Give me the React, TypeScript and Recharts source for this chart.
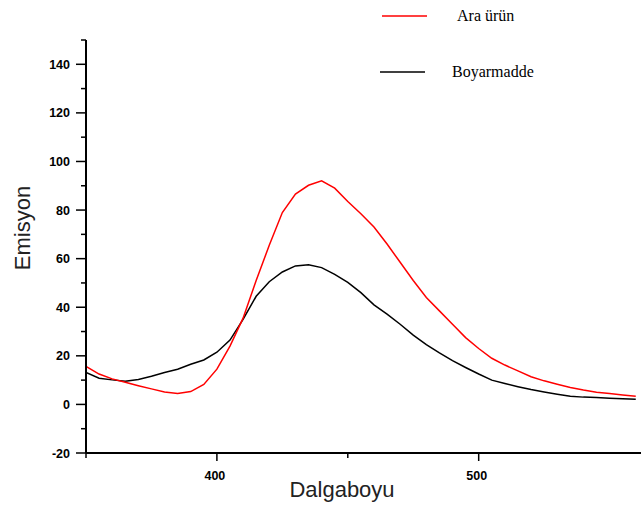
import { LineChart, Line, XAxis, YAxis } from "recharts";

// wavelength (nm)
const wavelengths = [
  350, 355, 360, 365, 370, 375, 380, 385, 390, 395, 400, 405, 410, 415, 420,
  425, 430, 435, 440, 445, 450, 455, 460, 465, 470, 475, 480, 485, 490, 495,
  500, 505, 510, 515, 520, 525, 530, 535, 540, 545, 550, 555, 560,
];

// Ara ürün (red)
const araUrun = [
  15.7, 12.5, 10.5, 9.1, 7.7, 6.4, 5.1, 4.5, 5.3, 8.2, 14.5, 24, 35.5, 51, 65.5,
  79, 86.6, 90.2, 92, 89, 83.5, 78.5, 73, 66, 58.5, 51, 44, 38.5, 33, 27.5,
  23, 19, 16.2, 13.8, 11.4, 9.7, 8.3, 7, 5.9, 5, 4.5, 3.9, 3.4,
];

// Boyarmadde (black)
const boyarmadde = [
  13.2, 10.8, 10.1, 9.5, 10.3, 11.6, 13.1, 14.5, 16.5, 18.3, 21.5, 26.5, 35, 44.5, 50.5,
  54.5, 57, 57.5, 56.3, 53.5, 50.2, 46, 41, 37.2, 33, 28.5, 24.6, 21.2, 18, 15.2,
  12.5, 10, 8.6, 7.3, 6.1, 5.1, 4.2, 3.4, 3, 2.8, 2.5, 2.3, 2.1,
];

const yTicks = [-20, -10, 0, 10, 20, 30, 40, 50, 60, 70, 80, 90, 100, 110, 120, 130, 140, 150];
const xTicks = [350, 400, 450, 500];

const data = wavelengths.map((w, i) => ({ w, ara: araUrun[i], boya: boyarmadde[i] }));

const tickFont = "Arial, 'Liberation Sans', sans-serif";
const serifFont = "'Liberation Serif', 'Times New Roman', serif";

const YTick = (props: any) => {
  const { x, y, payload } = props;
  const v = payload.value;
  const major = v % 20 === 0 && v !== 150;
  return (
    <g>
      <line x1={x - (major ? 10 : 5)} x2={x} y1={y} y2={y} stroke="#000" strokeWidth={1.5} />
      {major && (
        <text
          x={x - 16}
          y={y + 4.5}
          textAnchor="end"
          fontFamily={tickFont}
          fontWeight="bold"
          fontSize={12.5}
          fill="#000"
        >
          {v}
        </text>
      )}
    </g>
  );
};

const XTick = (props: any) => {
  const { x, y, payload } = props;
  const v = payload.value;
  const major = v % 100 === 0;
  return (
    <g>
      <line x1={x} x2={x} y1={y} y2={y + (major ? 8 : 5)} stroke="#000" strokeWidth={1.5} />
      {major && (
        <text
          x={x - 2}
          y={y + 27}
          textAnchor="middle"
          fontFamily={tickFont}
          fontWeight="bold"
          fontSize={12.5}
          fill="#000"
        >
          {v}
        </text>
      )}
    </g>
  );
};

const LegendBox = () => (
  <svg width={641} height={90} style={{ position: "absolute", left: 0, top: 0 }}>
    <line x1={382} x2={427} y1={16} y2={16} stroke="#ff0000" strokeWidth={1.5} />
    <text x={457} y={21} fontFamily={serifFont} fontSize={16} fill="#000">
      Ara ürün
    </text>
    <line x1={380} x2={425} y1={72} y2={72} stroke="#000" strokeWidth={1.5} />
    <text x={452} y={77} fontFamily={serifFont} fontSize={16} fill="#000">
      Boyarmadde
    </text>
  </svg>
);

export default function App() {
  return (
    <div style={{ position: "absolute", left: 0, top: 0, width: 641, height: 512, background: "#fff" }}>
      <LineChart width={641} height={512} data={data} margin={{ top: 40, right: 0, bottom: 0, left: 26 }}>
        <XAxis
          dataKey="w"
          type="number"
          domain={[350, 562]}
          ticks={xTicks}
          allowDataOverflow
          height={59}
          tickSize={0}
          tickMargin={0}
          tickLine={false}
          axisLine={{ stroke: "#000", strokeWidth: 2 }}
          tick={<XTick />}
          label={() => (
            <text x={342} y={497} textAnchor="middle" fontFamily={tickFont} fontSize={22} fill="#222">
              Dalgaboyu
            </text>
          )}
        />
        <YAxis
          type="number"
          domain={[-20, 150]}
          ticks={yTicks}
          interval={0}
          allowDataOverflow
          width={60}
          tickSize={0}
          tickMargin={0}
          tickLine={false}
          axisLine={{ stroke: "#000", strokeWidth: 2 }}
          tick={<YTick />}
          label={() => (
            <text
              x={30}
              y={228}
              transform="rotate(-90, 30, 228)"
              textAnchor="middle"
              fontFamily={tickFont}
              fontSize={22}
              fill="#222"
            >
              Emisyon
            </text>
          )}
        />
        <Line
          dataKey="boya"
          type="linear"
          stroke="#000"
          strokeWidth={1.5}
          dot={false}
          isAnimationActive={false}
        />
        <Line
          dataKey="ara"
          type="linear"
          stroke="#ff0000"
          strokeWidth={1.5}
          dot={false}
          isAnimationActive={false}
        />
      </LineChart>
      <LegendBox />
    </div>
  );
}
